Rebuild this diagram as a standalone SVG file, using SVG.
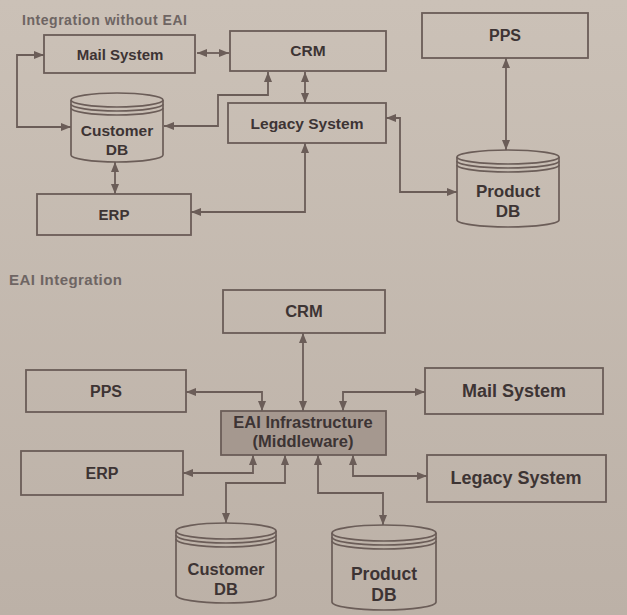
<svg xmlns="http://www.w3.org/2000/svg" width="627" height="615" viewBox="0 0 627 615">
<defs>
<linearGradient id="bg" x1="0" y1="0" x2="0" y2="1">
<stop offset="0" stop-color="#cbc1b7"/>
<stop offset="1" stop-color="#bcb1a7"/>
</linearGradient>
<marker id="ah" viewBox="0 0 10 8" refX="10" refY="4" markerWidth="11" markerHeight="8" markerUnits="userSpaceOnUse" orient="auto-start-reverse">
<path d="M0,0 L10,4 L0,8 z" fill="#6b5d58"/>
</marker>
<style>
.box{fill:none;stroke:#6b5d58;stroke-width:1.8}
.eai{fill:#a5988f;stroke:#6b5d58;stroke-width:1.8}
.cyl{fill:none;stroke:#6b5d58;stroke-width:1.7}
.con{fill:none;stroke:#6b5d58;stroke-width:1.8;marker-start:url(#ah);marker-end:url(#ah)}
.lbl{font-family:"Liberation Sans",Arial,sans-serif;font-weight:bold;fill:#3d3434;text-anchor:middle}
.ttl{font-family:"Liberation Sans",Arial,sans-serif;font-weight:bold;fill:#6e6563}
</style>
</defs>
<rect width="627" height="615" fill="url(#bg)"/>

<text class="ttl" x="22" y="25" font-size="14" textLength="165">Integration without EAI</text>
<text class="ttl" x="9" y="285" font-size="15" textLength="113">EAI Integration</text>

<g id="connectors-top">
<path class="con" d="M197 53 L229 53"/>
<path class="con" d="M44 55 L17 55 L17 127 L71 127"/>
<path class="con" d="M268 72 L268 95 L218 95 L218 126 L164 126"/>
<path class="con" d="M305 72 L305 103"/>
<path class="con" d="M115 162 L115 194"/>
<path class="con" d="M305 143 L305 212 L191 212"/>
<path class="con" d="M386 118 L400 118 L400 192 L457 192"/>
<path class="con" d="M506 58 L506 150"/>
</g>

<g id="connectors-bottom">
<path class="con" d="M303 333 L303 411"/>
<path class="con" d="M186 392 L262 392 L262 411"/>
<path class="con" d="M343 411 L343 392 L425 392"/>
<path class="con" d="M183 473 L253 473 L253 455"/>
<path class="con" d="M285 455 L285 483 L226 483 L226 523"/>
<path class="con" d="M353 455 L353 476 L427 476"/>
<path class="con" d="M318 455 L318 493 L383 493 L383 525"/>
</g>

<g id="t-mail">
<rect class="box" x="44" y="35" width="151" height="38"/>
<text class="lbl" x="120" y="60" font-size="15">Mail System</text>
</g>
<g id="t-crm">
<rect class="box" x="230" y="31" width="156" height="40"/>
<text class="lbl" x="308" y="56" font-size="15.5">CRM</text>
</g>
<g id="t-pps">
<rect class="box" x="422" y="13" width="166" height="45"/>
<text class="lbl" x="505" y="41" font-size="16">PPS</text>
</g>
<g id="t-legacy">
<rect class="box" x="228" y="103" width="158" height="40"/>
<text class="lbl" x="307" y="129" font-size="15.5">Legacy System</text>
</g>
<g id="t-erp">
<rect class="box" x="37" y="194" width="154" height="41"/>
<text class="lbl" x="114" y="220" font-size="15">ERP</text>
</g>
<g id="t-customerdb">
<path class="cyl" d="M71 100 L71 155 A46 7 0 0 0 163 155 L163 100"/>
<ellipse class="cyl" cx="117" cy="100" rx="46" ry="7"/>
<path class="cyl" d="M71 104 A46 7 0 0 0 163 104"/>
<path class="cyl" d="M71 108 A46 7 0 0 0 163 108"/>
<text class="lbl" x="117" y="136" font-size="15.5">Customer</text>
<text class="lbl" x="117" y="155" font-size="15.5">DB</text>
</g>
<g id="t-productdb">
<path class="cyl" d="M457 157 L457 220 A51 7 0 0 0 559 220 L559 157"/>
<ellipse class="cyl" cx="508" cy="157" rx="51" ry="7"/>
<path class="cyl" d="M457 161 A51 7 0 0 0 559 161"/>
<path class="cyl" d="M457 165 A51 7 0 0 0 559 165"/>
<text class="lbl" x="508" y="197" font-size="17">Product</text>
<text class="lbl" x="508" y="217" font-size="17">DB</text>
</g>

<g id="b-crm">
<rect class="box" x="223" y="290" width="162" height="43"/>
<text class="lbl" x="304" y="317" font-size="16.5">CRM</text>
</g>
<g id="b-pps">
<rect class="box" x="26" y="370" width="160" height="42"/>
<text class="lbl" x="106" y="397" font-size="16">PPS</text>
</g>
<g id="b-mail">
<rect class="box" x="425" y="368" width="178" height="46"/>
<text class="lbl" x="514" y="397" font-size="18">Mail System</text>
</g>
<g id="b-eai">
<rect class="eai" x="221" y="411" width="165" height="44"/>
<text class="lbl" x="303" y="428" font-size="16.5">EAI Infrastructure</text>
<text class="lbl" x="303" y="447" font-size="16.5">(Middleware)</text>
</g>
<g id="b-erp">
<rect class="box" x="21" y="451" width="162" height="44"/>
<text class="lbl" x="102" y="479" font-size="16">ERP</text>
</g>
<g id="b-legacy">
<rect class="box" x="427" y="455" width="179" height="47"/>
<text class="lbl" x="516" y="484" font-size="18">Legacy System</text>
</g>
<g id="b-customerdb">
<path class="cyl" d="M176 531 L176 595 A50 8 0 0 0 276 595 L276 531"/>
<ellipse class="cyl" cx="226" cy="531" rx="50" ry="8"/>
<path class="cyl" d="M176 535 A50 8 0 0 0 276 535"/>
<path class="cyl" d="M176 539 A50 8 0 0 0 276 539"/>
<text class="lbl" x="226" y="575" font-size="16.5">Customer</text>
<text class="lbl" x="226" y="595" font-size="16.5">DB</text>
</g>
<g id="b-productdb">
<path class="cyl" d="M332 533 L332 602 A52 8 0 0 0 436 602 L436 533"/>
<ellipse class="cyl" cx="384" cy="533" rx="52" ry="8"/>
<path class="cyl" d="M332 537 A52 8 0 0 0 436 537"/>
<path class="cyl" d="M332 541 A52 8 0 0 0 436 541"/>
<text class="lbl" x="384" y="580" font-size="17.5">Product</text>
<text class="lbl" x="384" y="601" font-size="17.5">DB</text>
</g>
</svg>
